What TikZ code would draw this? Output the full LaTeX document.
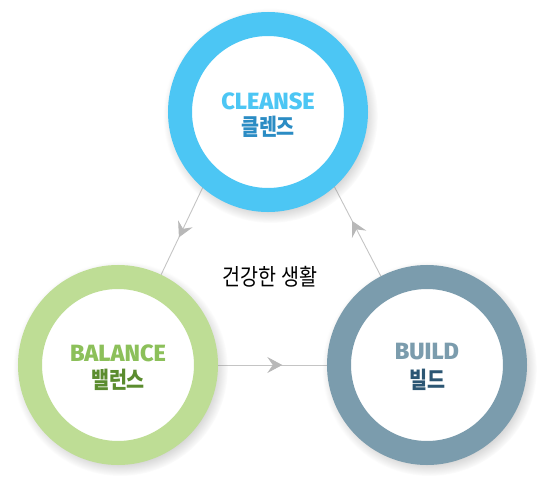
\documentclass[tikz,border=0pt]{standalone}
\usepackage{fontspec}
\setmainfont{Fira Sans}[BoldFont={Fira Sans ExtraBold}]
\newfontfamily\krfont[FakeStretch=0.85]{Noto Sans CJK KR}
\usetikzlibrary{
  arrows.meta,
  positioning,
  shadows,
  backgrounds,
  decorations.markings
}
\definecolor{cleanseblue}{HTML}{4CC6F4}
\definecolor{cleansedark}{HTML}{2B8CC4}
\definecolor{balancegreen}{HTML}{BEDD95}
\definecolor{balancetext}{HTML}{8CC05A}
\definecolor{balancedark}{HTML}{5B8C2E}
\definecolor{buildgray}{HTML}{7B9CAD}
\definecolor{builddark}{HTML}{2C5673}
\definecolor{linegray}{HTML}{C4C4C4}
\definecolor{tipgray}{HTML}{B8B8B8}

\begin{document}
\begin{tikzpicture}[x=1pt,y=-1pt,
      ring/.style={
         circle,
         minimum size=176pt,
         line width=24pt,
         fill=white,
         circular drop shadow={shadow scale=1.22,shadow xshift=2pt,
            shadow yshift=-3pt,opacity=.4}
      },
      en title/.style={
         font=\bfseries\fontsize{23.5}{23.5}\selectfont
      },
      kr title/.style={
         font=\krfont\bfseries\fontsize{23}{23}\selectfont
      },
      link/.style={draw=linegray,line width=0.9pt},
      mid tip/.style={
         postaction={decorate},
         decoration={markings,
            mark=at position #1 with {\arrow[tipgray]{Stealth[length=15pt,width=16pt,inset=5.5pt]}}}
      },
      point/.style={coordinate}
    ]
    \useasboundingbox (0,0) rectangle (544,482);
    % rings
    \node (cleanse) [ring, draw=cleanseblue] at (268,112) {};
    \node (balance) [ring, draw=balancegreen] at (118,365) {};
    \node (build) [ring, draw=buildgray] at (427,365) {};
    \node (apex) [point] at (266,55) {};
    % labels
    \node (cleanse en) [en title, text=cleanseblue] at ([yshift=11pt]cleanse) {CLEANSE};
    \node (cleanse kr) [kr title, text=cleansedark] at ([yshift=-15pt]cleanse) {클렌즈};
    \node (balance en) [en title, text=balancetext] at ([yshift=12pt]balance) {BALANCE};
    \node (balance kr) [kr title, text=balancedark] at ([yshift=-15pt]balance) {밸런스};
    \node (build en) [en title, text=buildgray] at ([yshift=13pt]build) {BUILD};
    \node (build kr) [kr title, text=builddark] at ([yshift=-15pt]build) {빌드};
    \node (life) [font=\krfont\fontsize{23}{23}\selectfont] at (270,277) {건강한 생활};
    % cycle
    \begin{scope}[on background layer]
      \draw[link, mid tip=0.83] (apex) -- (balance);
      \draw[link, mid tip=0.59] (balance) -- (build);
      \draw[link, mid tip=0.25] (build) -- (apex);
    \end{scope}
\end{tikzpicture}
\end{document}
